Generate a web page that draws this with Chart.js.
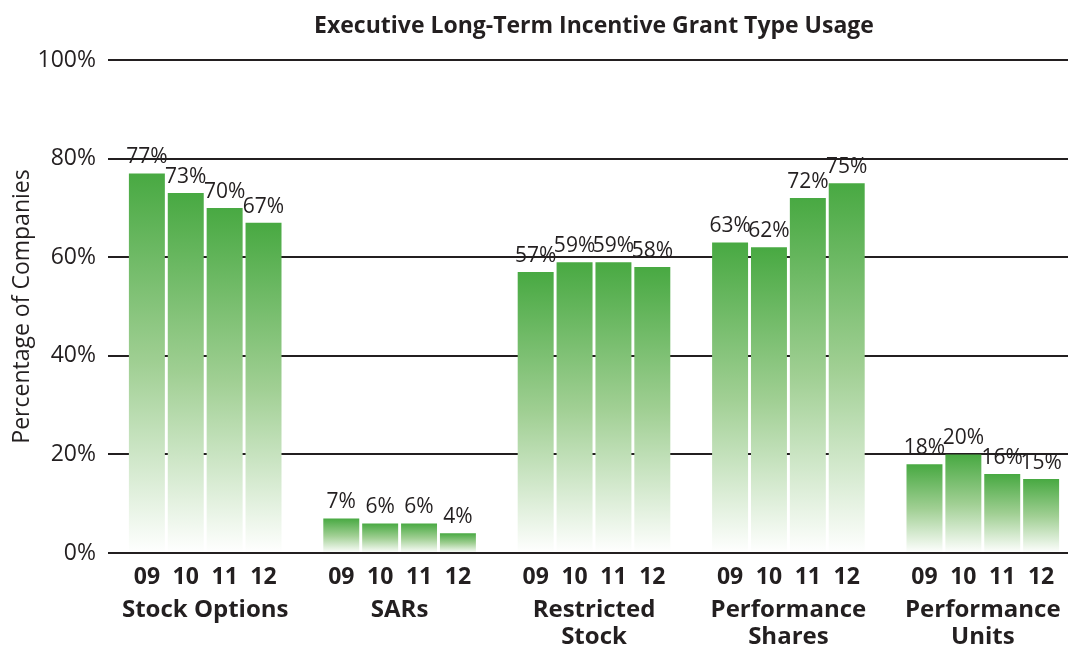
<!DOCTYPE html>
<html>
<head>
<meta charset="utf-8">
<script src="https://cdn.jsdelivr.net/npm/chart.js@4"></script>
<style>
  html, body { margin: 0; padding: 0; background: #fff; overflow: hidden; }
  #grantChart { display: block; }
</style>
</head>
<body>
<canvas id="grantChart" width="1081" height="648"></canvas>
<script>
// Chart data
const groups = [['Stock Options'], ['SARs'], ['Restricted', 'Stock'], ['Performance', 'Shares'], ['Performance', 'Units']];
const years = ['09', '10', '11', '12'];
const usage09 = [77, 7, 57, 63, 18];
const usage10 = [73, 6, 59, 62, 20];
const usage11 = [70, 6, 59, 72, 16];
const usage12 = [67, 4, 58, 75, 15];
const yTicks = [0, 20, 40, 60, 80, 100];
const chartTitle = 'Executive Long-Term Incentive Grant Type Usage';

const FONT = '"Open Sans", "DejaVu Sans", sans-serif';
const INK = '#231f20';

Chart.defaults.font.family = FONT;
Chart.defaults.color = INK;

// each bar fades from green at its top to white at the baseline
function barGradient(c) {
    const chart = c.chart;
    if (!chart.chartArea || c.type !== 'data') return '#4aa944';
    const y = chart.scales.y;
    const top = y.getPixelForValue(c.raw);
    const base = y.getPixelForValue(0);
    const g = chart.ctx.createLinearGradient(0, top, 0, base);
    g.addColorStop(0, '#48a942');
    g.addColorStop(0.5, '#a0cf93');
    g.addColorStop(1, '#ffffff');
    return g;
}

function makeSet(label, data) {
    return {
        label: label,
        data: data,
        backgroundColor: barGradient,
        borderWidth: 0,
        categoryPercentage: 0.8,
        barPercentage: 0.925
    };
}

// title, value labels, year labels and group names
const labelPlugin = {
    id: 'labelPlugin',
    afterDatasetsDraw(chart) {
        const ctx = chart.ctx;
        const area = chart.chartArea;
        const xs = chart.scales.x;
        ctx.save();
        ctx.fillStyle = INK;
        ctx.textAlign = 'center';

        ctx.font = 'bold 23px ' + FONT;
        ctx.textBaseline = 'middle';
        ctx.fillText(chartTitle, (area.left + area.right) / 2, 26);

        chart.data.datasets.forEach((ds, i) => {
            const meta = chart.getDatasetMeta(i);
            meta.data.forEach((bar, j) => {
                ctx.font = '21px ' + FONT;
                ctx.textBaseline = 'alphabetic';
                ctx.fillText(ds.data[j] + '%', bar.x, bar.y - 10);

                ctx.font = 'bold 23px ' + FONT;
                ctx.textBaseline = 'middle';
                ctx.fillText(years[i], bar.x, area.bottom + 24);
            });
        });

        ctx.font = 'bold 24px ' + FONT;
        ctx.textBaseline = 'middle';
        groups.forEach((lines, i) => {
            const x = xs.getPixelForTick(i);
            lines.forEach((line, k) => {
                ctx.fillText(line, x, area.bottom + 57 + k * 27);
            });
        });
        ctx.restore();
    }
};

const grantCtx = document.getElementById('grantChart').getContext('2d');
new Chart(grantCtx, {
    type: 'bar',
    data: {
        labels: groups,
        datasets: [
            makeSet(years[0], usage09),
            makeSet(years[1], usage10),
            makeSet(years[2], usage11),
            makeSet(years[3], usage12)
        ]
    },
    options: {
        responsive: false,
        animation: false,
        layout: {
            padding: { top: 60, right: 1, bottom: 0, left: 0 }
        },
        plugins: {
            legend: { display: false },
            tooltip: { enabled: false }
        },
        scales: {
            x: {
                grid: { display: false, drawTicks: false },
                border: { display: false },
                ticks: { display: false },
                afterFit(scale) { scale.height = 95; }
            },
            y: {
                min: 0,
                max: 100,
                afterBuildTicks(scale) {
                    scale.ticks = yTicks.map(v => ({ value: v }));
                },
                grid: { color: INK, lineWidth: 2, drawTicks: false },
                border: { display: false },
                ticks: {
                    padding: 12,
                    font: { size: 23 },
                    callback: v => v + '%'
                },
                title: {
                    display: true,
                    text: 'Percentage of Companies',
                    font: { size: 23 },
                    padding: { top: 9, bottom: 0 }
                },
                afterFit(scale) { scale.width = 108; }
            }
        }
    },
    plugins: [labelPlugin]
});
</script>
</body>
</html>
